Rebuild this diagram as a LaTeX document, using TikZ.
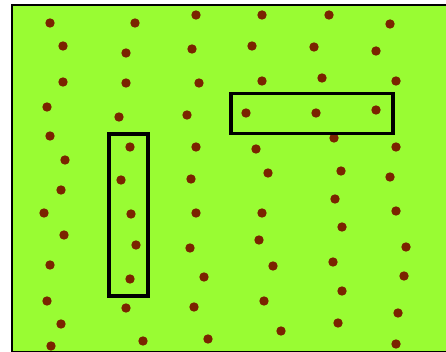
\documentclass[tikz,border=0pt]{standalone}
\usepackage{tikz}

\definecolor{fieldgreen}{RGB}{153,252,51}
\definecolor{seedbrown}{RGB}{122,36,0}

\begin{document}
\begin{tikzpicture}[x=1pt, y=-1pt]
    \tikzstyle{seed} = [circle, fill=seedbrown, inner sep=0pt, minimum size=9.4pt]
    \tikzstyle{plot} = [draw=black, line width=3.6pt]

    \useasboundingbox (0,0) rectangle (446,352);
    \draw[fill=fieldgreen, line width=2pt] (12,5) rectangle (460,352);

    % seeds, column by column
    \foreach \x/\y [count=\i] in {
        50/23, 63/46, 63/82, 47/107, 50/136, 65/160, 61/190, 44/213, 64/235, 50/265, 47/301, 61/324, 51/346,
        135/23, 126/53, 126/83, 119/117, 130/147, 121/180, 131/214, 136/245, 130/279, 126/308, 143/341,
        196/15, 192/49, 199/83, 187/115, 196/147, 191/179, 196/213, 190/248, 204/277, 194/307, 208/339,
        262/15, 252/46, 262/81, 246/113, 256/149, 268/173, 262/213, 259/240, 273/266, 264/301, 281/331,
        329/15, 314/47, 322/78, 316/113, 334/138, 341/171, 335/199, 342/227, 333/262, 342/291, 338/323,
        390/24, 376/51, 396/81, 376/110, 396/147, 390/177, 396/211, 406/247, 404/276, 398/313, 396/344}
        \node[seed] (s\i) at (\x,\y) {};

    % sampled plots
    \draw[plot] (109,134) rectangle (148,296);
    \draw[plot] (231,93.5) rectangle (393,133.5);
\end{tikzpicture}
\end{document}
